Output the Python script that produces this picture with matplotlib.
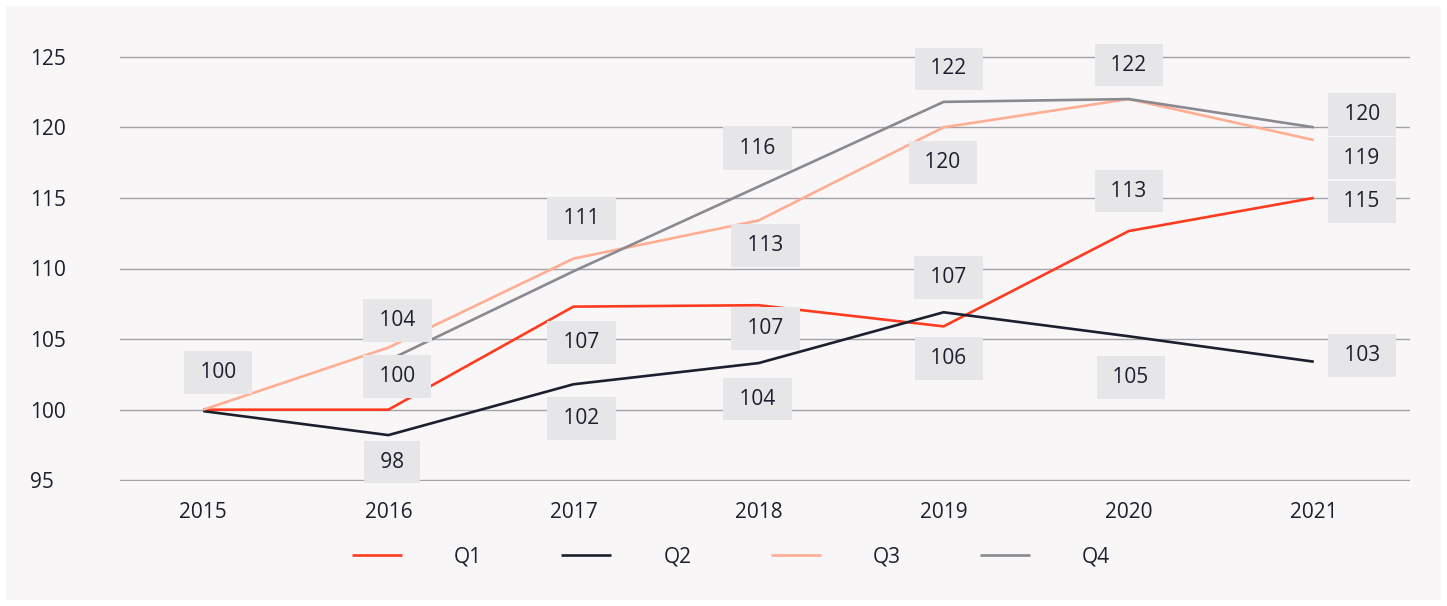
import matplotlib.pyplot as plt
from matplotlib.patches import Rectangle

# data
years = ['2015', '2016', '2017', '2018', '2019', '2020', '2021']
q1 = [100, 100, 107.3, 107.4, 105.9, 112.65, 115]
q2 = [99.9, 98.2, 101.8, 103.3, 106.9, 105.2, 103.4]
q3 = [100, 104.4, 110.7, 113.4, 120, 122, 119.1]
q4 = [None, 103.5, 109.8, 115.8, 121.8, 122, 120]

q1_labels = ['', '100', '107', '107', '106', '113', '115']
q2_labels = ['', '98', '102', '104', '107', '105', '103']
q3_labels = ['100', '104', '111', '113', '120', '', '119']
q4_labels = ['', '', '', '116', '122', '122', '120']

# label offsets in pixels (dx, dy downward)
q1_off = [None, (9, -33), (8, 36), (7, 23), (5, 32), (0, -40), (48, 4)]
q2_off = [None, (4, 27), (8, 34), (-1, 36), (5, -35), (2, 41), (48, -6)]
q3_off = [(15, -37), (9, -27), (8, -40), (7, 25), (-1, 35), None, (48, 18)]
q4_off = [None, None, None, (-1, -38), (5, -33), (0, -34), (48, -13)]

colors = ['#ff3b1f', '#1b1f2e', '#ffae94', '#8a898f']
text_col = '#1b1f2e'

plt.rcParams['font.family'] = ['Open Sans', 'DejaVu Sans']

fig = plt.figure(figsize=(14.47, 6.06), dpi=100, facecolor='white')
fig.patches.append(Rectangle((6 / 1447, 6 / 606), 1435 / 1447, 594 / 606,
                             transform=fig.transFigure, facecolor='#f8f6f7',
                             edgecolor='none', zorder=-10))

ax = fig.add_axes([120 / 1447, 125 / 606, 1290 / 1447, 425 / 606])
ax.set_facecolor('none')

x = list(range(len(years)))
series = [(q1, q1_labels, q1_off, 'Q1'), (q2, q2_labels, q2_off, 'Q2'),
          (q3, q3_labels, q3_off, 'Q3'), (q4, q4_labels, q4_off, 'Q4')]

for (vals, labs, offs, name), c in zip(series, colors):
    xs = [xi for xi, v in zip(x, vals) if v is not None]
    ys = [v for v in vals if v is not None]
    ax.plot(xs, ys, color=c, lw=1.9, label=name, zorder=3, solid_capstyle='butt')
    for xi, v, lab, off in zip(x, vals, labs, offs):
        if v is None or not lab or off is None:
            continue
        ax.annotate(' ' + lab + ' ', (xi, v), xytext=(off[0] * 0.72, -off[1] * 0.72),
                    textcoords='offset points', ha='center', va='center',
                    fontsize=15, color=text_col, zorder=5,
                    bbox=dict(boxstyle='square,pad=0.52', fc='#e6e5e8', ec='none'))

ax.set_xlim(-0.45, 6.52)
ax.set_ylim(94.95, 125.05)
ax.set_yticks([95, 100, 105, 110, 115, 120, 125])
ax.set_xticks(x)
ax.set_xticklabels(years)
ax.grid(axis='y', color='#a3a2a6', lw=1)
ax.set_axisbelow(True)
for s in ax.spines.values():
    s.set_visible(False)
ax.tick_params(axis='both', length=0, labelsize=15, labelcolor=text_col)
ax.tick_params(axis='x', pad=15)
ax.tick_params(axis='y', pad=65)
for t in ax.get_yticklabels():
    t.set_horizontalalignment('left')

ax.legend(loc='center', bbox_to_anchor=(731 / 1447, 49 / 606),
          bbox_transform=fig.transFigure, ncol=4, frameon=False, fontsize=15,
          handlelength=2.4, handletextpad=2.5, columnspacing=3.8,
          labelcolor=text_col)

fig.savefig('out.png', dpi=100, facecolor='white')
